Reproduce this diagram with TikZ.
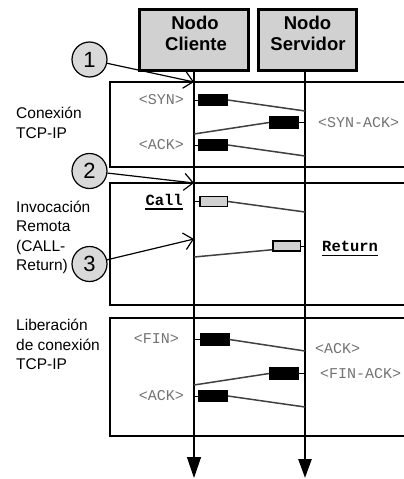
\documentclass[tikz,border=0pt]{standalone}
\usepackage{fontspec}
\setmainfont{Liberation Sans}
\setmonofont{Liberation Mono}
\usetikzlibrary{arrows.meta}
\begin{document}
\begin{tikzpicture}[x=1pt,y=-1pt,
 frame/.style={draw=black,line width=2.4pt},
 hdr/.style={draw=black,fill=black!18,line width=3pt,minimum height=61pt,inner sep=0pt},
 hdrtxt/.style={font=\fontsize{18.5}{21}\selectfont\bfseries,anchor=base,inner sep=0pt},
 lbl/.style={font=\fontsize{15.5}{19.5}\selectfont,anchor=base west,inner sep=0pt},
 msg/.style={font=\ttfamily\fontsize{15}{18}\selectfont,text=black!55,inner sep=0pt},
 kw/.style={font=\ttfamily\bfseries\fontsize{15.5}{18}\selectfont,inner sep=0pt},
 pkt/.style={fill=black,draw=black,minimum width=29pt,minimum height=11.5pt,inner sep=0pt,line width=0.8pt},
 gpkt/.style={fill=black!18,draw=black,line width=1.5pt,minimum width=27.5pt,minimum height=10pt,inner sep=0pt},
 wire/.style={draw=black!75,line width=1.5pt},
 tick/.style={draw=black,line width=0.9pt},
 num/.style={circle,draw=black,fill=black!15,line width=1.2pt,minimum size=35pt,inner sep=0pt,font=\fontsize{22}{22}\selectfont},
 pointer/.style={draw=black,line width=1.2pt,-{Straight Barb[length=9pt,width=17pt]}},
 uline/.style={draw=black,line width=1.8pt},
]
\clip (0,0) rectangle (404,479);
\fill[white] (0,0) rectangle (404,479);

% frames
\draw[frame] (412,82) -- (110,82) -- (110,167) -- (412,167);
\draw[frame] (412,183) -- (110,183) -- (110,305) -- (412,305);
\draw[frame] (412,318) -- (110,318) -- (110,436) -- (412,436);

% headers
\node[hdr,minimum width=109pt] (cli) at (194,40) {};
\node[hdr,minimum width=98pt] (srv) at (307.5,40) {};
\node[hdrtxt] (cliA) at (195,29) {Nodo};
\node[hdrtxt] (cliB) at (196,50) {Cliente};
\node[hdrtxt] (srvA) at (307.5,29) {Nodo};
\node[hdrtxt] (srvB) at (308,50) {Servidor};

% lifelines
\coordinate (cliEnd) at (194,478);
\coordinate (srvEnd) at (305,478);
\draw[line width=1.3pt,-{Triangle[length=21pt,width=14pt]}] (194,72) -- (cliEnd);
\draw[line width=2.6pt,-{Triangle[length=19pt,width=13pt]}] (305,72) -- (srvEnd);

% left labels
\node[lbl] (l1a) at (16,118) {Conexión};
\node[lbl] (l1b) at (16,138) {TCP-IP};
\node[lbl] (l2a) at (16,212.5) {Invocación};
\node[lbl] (l2b) at (16,231.5) {Remota};
\node[lbl] (l2c) at (16,251) {(CALL-};
\node[lbl] (l2d) at (16,270) {Return)};
\node[lbl] (l3a) at (16,330.5) {Liberación};
\node[lbl] (l3b) at (16,350) {de conexión};
\node[lbl] (l3c) at (16,369) {TCP-IP};

% frame 1 : connection
\node[pkt] (syn) at (213,100) {};
\node[pkt] (synack) at (284,122.5) {};
\node[pkt] (ack1) at (213,145) {};
\coordinate (c1) at (194,100);
\coordinate (s1) at (305,111);
\coordinate (s2) at (305,122.5);
\coordinate (c2) at (194,134);
\coordinate (c3) at (194,145);
\coordinate (s3) at (305,156);
\draw[tick] (c1) -- (syn.west);
\draw[wire] (syn.east) -- (s1);
\draw[tick] (synack.east) -- (s2);
\draw[wire] (synack.west) -- (c2);
\draw[tick] (c3) -- (ack1.west);
\draw[wire] (ack1.east) -- (s3);
\node[msg,anchor=base east] (tsyn) at (184,104.5) {<SYN>};
\node[msg,anchor=base west] (tsynack) at (318,127.5) {<SYN-ACK>};
\node[msg,anchor=base east] (tack1) at (184,149.5) {<ACK>};

% frame 2 : call / return
\node[gpkt] (call) at (213.5,201.5) {};
\node[gpkt] (ret) at (286.5,246) {};
\coordinate (c4) at (194,201.5);
\coordinate (s4) at (305,212);
\coordinate (s5) at (305,246);
\coordinate (c5) at (194,257);
\draw[tick] (c4) -- (call.west);
\draw[wire] (call.east) -- (s4);
\draw[tick] (ret.east) -- (s5);
\draw[wire] (ret.south west) ++(0,-2) -- (c5);
\node[kw,anchor=base east] (tcall) at (183,205) {Call};
\node[kw,anchor=base west] (tret) at (322,251.5) {Return};
\draw[uline] ([yshift=-4pt]tcall.base west) -- ([yshift=-4pt]tcall.base east);
\draw[uline] ([yshift=-4pt]tret.base west) -- ([yshift=-4pt]tret.base east);

% frame 3 : release
\node[pkt,minimum height=12.5pt] (fin) at (214.5,339.5) {};
\node[pkt,minimum height=12.5pt] (finack) at (284,373.5) {};
\node[pkt] (ack2) at (213,396) {};
\coordinate (c6) at (194,339.5);
\coordinate (s6) at (305,351);
\coordinate (s7) at (305,373.5);
\coordinate (c7) at (194,385);
\coordinate (c8) at (194,396);
\coordinate (s8) at (305,407);
\draw[tick] (c6) -- (fin.west);
\draw[wire] (fin.east) -- (s6);
\draw[tick] (finack.east) -- (s7);
\draw[wire] (finack.west) -- (c7);
\draw[tick] (c8) -- (ack2.west);
\draw[wire] (ack2.east) -- (s8);
\node[msg,anchor=base east] (tfin) at (179,343.5) {<FIN>};
\node[msg,anchor=base west] (tack3) at (315,353.5) {<ACK>};
\node[msg,anchor=base west] (tfinack) at (320,378.5) {<FIN-ACK>};
\node[msg,anchor=base east] (tack2) at (184,400.5) {<ACK>};

% numbered markers
\node[num] (n1) at (89.5,59.5) {1};
\node[num] (n2) at (89.5,171) {2};
\node[num] (n3) at (89.5,264) {3};
\coordinate (p1) at (194,82);
\coordinate (p2) at (194,183);
\coordinate (p3) at (194,239);
\draw[pointer] (n1) -- (p1);
\draw[pointer] (n2) -- (p2);
\draw[pointer] (n3) -- (p3);
\end{tikzpicture}
\end{document}
